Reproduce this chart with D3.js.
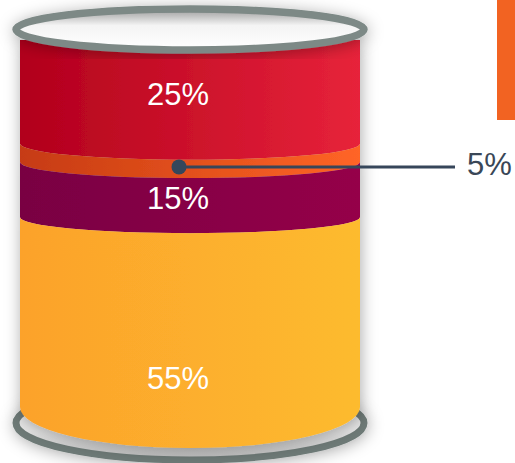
<!DOCTYPE html>
<html>
<head>
<meta charset="utf-8">
<script src="https://cdn.jsdelivr.net/npm/d3@7"></script>
<style>
  html, body { margin: 0; padding: 0; background: #ffffff; }
  svg { display: block; }
</style>
</head>
<body>
<div id="chart"></div>
<script>
// ---- data ----
const categories = ["A", "B", "C", "D"];
const values = [25, 5, 15, 55];
const valueLabels = ["25%", "5%", "15%", "55%"];
const calloutIndex = [1];
// ---- styles ----
const colorsLeft  = ["#b1001c", "#c63b12", "#790043", "#fca22b"];
const colorsRight = ["#e7233a", "#ff6526", "#950048", "#fdbb2f"];

const W = 515, H = 463;
const svg = d3.select("#chart").append("svg").attr("width", W).attr("height", H);
const defs = svg.append("defs");

// geometry
const cx = 190, rx = 170;
const bodyTop = 40, bodyBottom = 407;
const ryInner = 16, ryBottom = 41;
const x = d3.scaleLinear().domain([-1, 1]).range([cx - rx, cx + rx]);
const y = d3.scaleLinear().domain([0, 100]).range([52, 419]);

// cumulative
let acc = 0;
const bands = values.map((v, i) => {
  const s = acc; acc += v;
  const top = i === 0 ? bodyTop : y(s);
  const bottom = i === values.length - 1 ? bodyBottom : Math.min(y(acc), bodyBottom);
  return { i, v, s, e: acc, top, bottom, label: valueLabels[i], cat: categories[i] };
});

// gradients
bands.forEach(b => {
  const g = defs.append("linearGradient").attr("id", "g" + b.i)
    .attr("x1", "0").attr("x2", "1").attr("y1", "0").attr("y2", "0");
  g.append("stop").attr("offset", "0").attr("stop-color", colorsLeft[b.i]);
  g.append("stop").attr("offset", "1").attr("stop-color", colorsRight[b.i]);
});
const rimG = defs.append("linearGradient").attr("id", "rimTop")
  .attr("x1", 0).attr("x2", 0).attr("y1", 0).attr("y2", 1);
rimG.append("stop").attr("offset", "0").attr("stop-color", "#9c9c9c");
rimG.append("stop").attr("offset", "0.4").attr("stop-color", "#f4f4f4");
rimG.append("stop").attr("offset", "1").attr("stop-color", "#ffffff");
const rimB = defs.append("linearGradient").attr("id", "rimBot")
  .attr("x1", 0).attr("x2", 0).attr("y1", 0).attr("y2", 1);
rimB.append("stop").attr("offset", "0.6").attr("stop-color", "#e6e6e6");
rimB.append("stop").attr("offset", "1").attr("stop-color", "#bdbdbd");

const f = defs.append("filter").attr("id", "shadow")
  .attr("x", "-20%").attr("y", "-20%").attr("width", "140%").attr("height", "140%");
f.append("feDropShadow").attr("dx", 1).attr("dy", 2).attr("stdDeviation", 8)
  .attr("flood-color", "#000").attr("flood-opacity", 0.33);

// bottom rim
svg.append("ellipse")
  .attr("cx", cx).attr("cy", 423).attr("rx", 174).attr("ry", 37)
  .attr("fill", "url(#rimBot)").attr("stroke", "#6e7a77").attr("stroke-width", 7)
  .attr("filter", "url(#shadow)");

// body
const L = x(-1), R = x(1);
function bandPath(b) {
  let p = "";
  if (b.i === 0) {
    p += `M${L},${b.top} L${R},${b.top}`;
  } else {
    p += `M${L},${b.top} A${rx},${ryInner} 0 0 0 ${R},${b.top}`;
  }
  const ryB = b.i === values.length - 1 ? ryBottom : ryInner;
  p += ` L${R},${b.bottom} A${rx},${ryB} 0 0 1 ${L},${b.bottom} Z`;
  return p;
}
const body = svg.append("g").attr("filter", "url(#shadow)");
body.selectAll("path.band").data(bands).join("path")
  .attr("class", "band")
  .attr("d", bandPath)
  .attr("fill", d => `url(#g${d.i})`);

// top rim
svg.append("ellipse")
  .attr("cx", cx).attr("cy", 29.5).attr("rx", 174).attr("ry", 20.5)
  .attr("fill", "url(#rimTop)").attr("stroke", "#7d8986").attr("stroke-width", 7.5)
  .attr("filter", "url(#shadow)");

// labels
const labelX = cx - 12;
const fontFamily = "'Liberation Sans', Arial, sans-serif";
svg.selectAll("text.lbl").data(bands.filter(b => !calloutIndex.includes(b.i))).join("text")
  .attr("class", "lbl")
  .attr("x", labelX)
  .attr("y", b => {
    const mid = (b.s + b.e) / 2 / 100;
    const frac = 0.45 + 0.55 * mid;
    return b.top + (b.bottom - b.top) * frac + 11;
  })
  .attr("text-anchor", "middle")
  .attr("font-family", fontFamily)
  .attr("font-size", 31)
  .attr("fill", "#ffffff")
  .text(b => b.label);

// callout
bands.filter(b => calloutIndex.includes(b.i)).forEach(b => {
  const yc = (b.top + b.bottom) / 2 + ryInner - 2;
  svg.append("line")
    .attr("x1", labelX + 1).attr("x2", 455).attr("y1", yc).attr("y2", yc)
    .attr("stroke", "#36465a").attr("stroke-width", 3);
  svg.append("circle")
    .attr("cx", labelX + 1).attr("cy", yc).attr("r", 7.5)
    .attr("fill", "#34475b");
  svg.append("text")
    .attr("x", 467).attr("y", yc + 8)
    .attr("font-family", fontFamily)
    .attr("font-size", 31)
    .attr("fill", "#3a4757")
    .text(b.label);
});

// legend swatch (cropped at right edge)
svg.append("rect")
  .attr("x", 497).attr("y", 0).attr("width", 18).attr("height", 120)
  .attr("fill", "#f26322");
</script>
</body>
</html>
